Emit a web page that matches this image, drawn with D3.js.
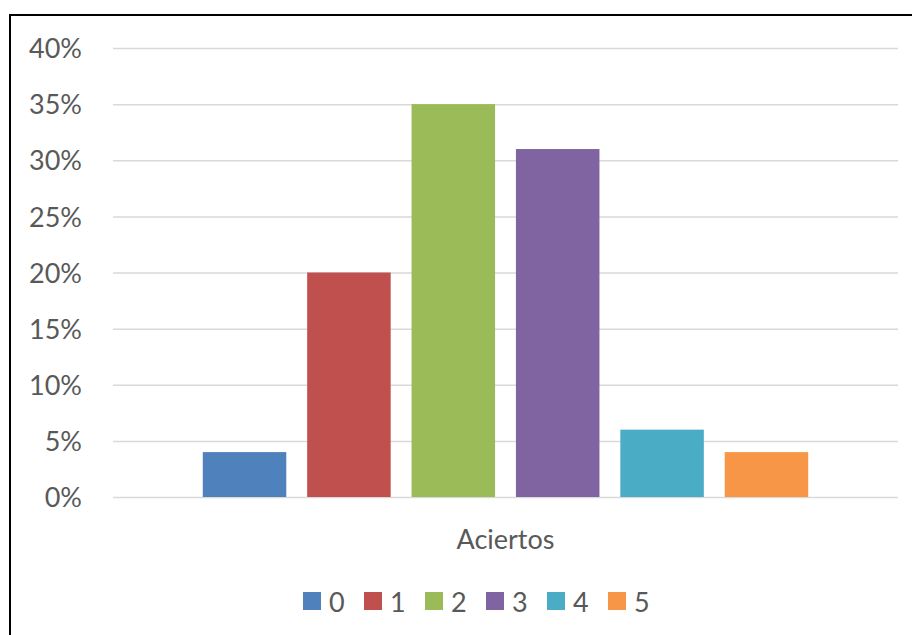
<!DOCTYPE html>
<html>
<head>
<meta charset="utf-8">
<script src="https://cdn.jsdelivr.net/npm/d3@7"></script>
<style>
  body { margin: 0; background: #ffffff; }
  svg { display: block; }
</style>
</head>
<body>
<div id="chart"></div>
<script>
// data
var categories = ["Aciertos"];
var seriesNames = ["0", "1", "2", "3", "4", "5"];
var seriesValues = [0.04, 0.20, 0.35, 0.31, 0.06, 0.04];
var seriesColors = ["#4f81bd", "#c0504d", "#9bbb59", "#8064a2", "#4bacc6", "#f79646"];
var yTicks = [0, 0.05, 0.10, 0.15, 0.20, 0.25, 0.30, 0.35, 0.40];

var w = 912;
var h = 635;
var plotLeft = 113, plotRight = 898, plotTop = 48, plotBottom = 497;
var textColor = "#595959";
var font = "Lato, 'Open Sans', sans-serif";

var svg = d3.select("#chart").append("svg").attr("width", w).attr("height", h);

// outer frame (only left and top edges show)
svg.append("rect")
    .attr("x", 10).attr("y", 15)
    .attr("width", 920).attr("height", 650)
    .attr("fill", "none")
    .attr("stroke", "#000")
    .attr("stroke-width", 2);

var yScale = d3.scaleLinear().domain([0, 0.40]).range([plotBottom, plotTop]);

var xScale = d3.scaleBand().domain(categories).range([plotLeft, plotRight]);

var xInner = d3.scaleBand().domain(seriesNames)
    .range([0, xScale.bandwidth()])
    .paddingInner(0.2)
    .paddingOuter(0.86);

// gridlines + labels
var yAxis = d3.axisLeft(yScale)
    .tickValues(yTicks)
    .tickSize(-(plotRight - plotLeft))
    .tickPadding(31)
    .tickFormat(d3.format(".0%"));

var gy = svg.append("g")
    .attr("transform", "translate(" + plotLeft + ",0)")
    .call(yAxis);
gy.select(".domain").remove();
gy.selectAll("line").attr("stroke", "#d9d9d9").attr("stroke-width", 1.5);
gy.selectAll("text")
    .attr("fill", textColor)
    .attr("font-family", font)
    .attr("font-size", "27px")
    .attr("dy", "0.36em");

// bars
var group = svg.append("g").selectAll("g")
    .data(categories)
    .enter().append("g")
    .attr("transform", function (d) { return "translate(" + xScale(d) + ",0)"; });

group.selectAll("rect")
    .data(seriesNames.map(function (s, i) { return { name: s, value: seriesValues[i], color: seriesColors[i] }; }))
    .enter().append("rect")
    .attr("x", function (d) { return xInner(d.name); })
    .attr("y", function (d) { return yScale(d.value); })
    .attr("width", xInner.bandwidth())
    .attr("height", function (d) { return yScale(0) - yScale(d.value); })
    .attr("fill", function (d) { return d.color; });

// category label
svg.selectAll(".cat")
    .data(categories)
    .enter().append("text")
    .attr("class", "cat")
    .attr("x", function (d) { return xScale(d) + xScale.bandwidth() / 2; })
    .attr("y", 549)
    .attr("text-anchor", "middle")
    .attr("fill", textColor)
    .attr("font-family", font)
    .attr("font-size", "27px")
    .text(function (d) { return d; });

// legend
var legendX = d3.scaleBand().domain(seriesNames).range([303, 669]);
var legend = svg.append("g").selectAll("g")
    .data(seriesNames)
    .enter().append("g")
    .attr("transform", function (d) { return "translate(" + legendX(d) + ",592)"; });

legend.append("rect")
    .attr("width", 18).attr("height", 18)
    .attr("fill", function (d, i) { return seriesColors[i]; });

legend.append("text")
    .attr("x", 26)
    .attr("y", 20)
    .attr("fill", textColor)
    .attr("font-family", font)
    .attr("font-size", "27px")
    .text(function (d) { return d; });
</script>
</body>
</html>
